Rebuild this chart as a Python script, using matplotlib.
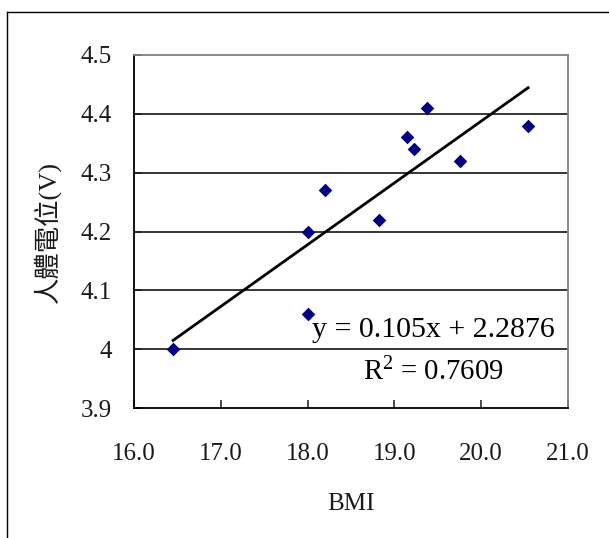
import matplotlib
matplotlib.use("Agg")
import matplotlib.pyplot as plt
from matplotlib.lines import Line2D

plt.rcParams['font.family'] = ['Liberation Serif', 'Noto Sans CJK TC']
plt.rcParams['mathtext.default'] = 'regular'

# BMI vs body potential measurements
bmi = [16.45, 18.0, 18.0, 18.2, 18.82, 19.15, 19.23, 19.38, 19.75, 20.54]
potential = [4.00, 4.06, 4.20, 4.27, 4.22, 4.36, 4.34, 4.41, 4.32, 4.38]

# linear trendline coefficients
slope = 0.105
intercept = 2.2876
r_squared = 0.7609

x_ticks = [16.0, 17.0, 18.0, 19.0, 20.0, 21.0]
y_ticks = [3.9, 4.0, 4.1, 4.2, 4.3, 4.4, 4.5]
y_tick_labels = ['3.9', '4', '4.1', '4.2', '4.3', '4.4', '4.5']

fig = plt.figure(figsize=(6.09, 5.38), dpi=100)
ax = fig.add_axes([0.22, 0.2416, 0.7127, 0.6562])

# outer chart frame
fig.add_artist(Line2D([7 / 609, 7 / 609], [0, 1 - 12 / 538], color='black', lw=1.0,
                      transform=fig.transFigure))
fig.add_artist(Line2D([7 / 609, 1], [1 - 12 / 538, 1 - 12 / 538], color='black', lw=1.0,
                      transform=fig.transFigure))

ax.set_xlim(16.0, 21.0)
ax.set_ylim(3.9, 4.5)

for yv in y_ticks[1:-1]:
    ax.axhline(yv, color='black', lw=1.1, zorder=1)

ax.scatter(bmi, potential, marker='D', s=48, color='#000080', linewidths=0, zorder=3)

x0, x1 = min(bmi), max(bmi)
ax.plot([x0, x1], [slope * x0 + intercept, slope * x1 + intercept],
        color='black', lw=2.0, zorder=4)

mid = (21.0 + 16.0) / 2 + 0.95
ax.text(mid, 4.0207, f'y = {slope}x + {intercept}', ha='center', va='baseline',
        fontsize=21.5, zorder=5)
ax.text(mid, 3.9476, f'R$^2$ = {r_squared}', ha='center', va='baseline',
        fontsize=20.7, zorder=5)

ax.set_xticks(x_ticks)
ax.set_xticklabels([f'{v:.1f}' for v in x_ticks])
ax.set_yticks(y_ticks)
ax.set_yticklabels(y_tick_labels)
ax.tick_params(axis='both', direction='in', length=6, width=1.1, labelsize=18,
               colors='#1a1a1a')
ax.tick_params(axis='x', pad=25)
ax.tick_params(axis='y', pad=16)

for side in ('left', 'bottom'):
    ax.spines[side].set_color('black')
    ax.spines[side].set_linewidth(1.3)
for side in ('top', 'right'):
    ax.spines[side].set_color('#808080')
    ax.spines[side].set_linewidth(1.3)

ax.set_xlabel('BMI', fontsize=18, labelpad=20, color='#1a1a1a')
ax.set_ylabel('人體電位(V)', fontsize=19, labelpad=14, color='#1a1a1a')

fig.savefig('out.png', dpi=100)
